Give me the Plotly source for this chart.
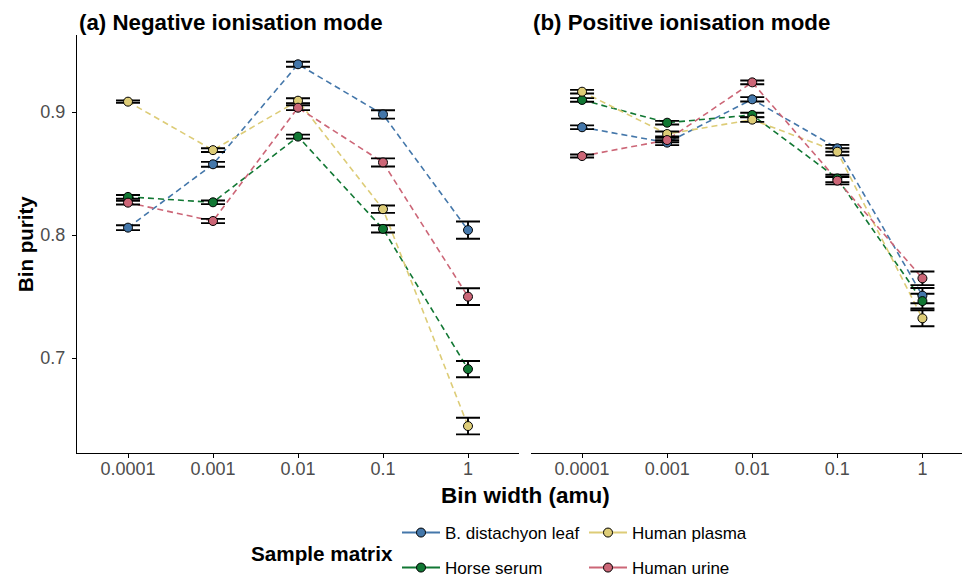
import plotly.graph_objects as go

# ---------------- data ----------------
bin_widths = ["0.0001", "0.001", "0.01", "0.1", "1"]
series_names = ["B. distachyon leaf", "Horse serum", "Human plasma", "Human urine"]
series_colors = ["#4477AA", "#117733", "#DDCC77", "#CC6677"]

# Negative ionisation mode: mean bin purity and error (half-width)
neg_bdist = [0.806, 0.8575, 0.9388, 0.898, 0.804]
neg_horse = [0.831, 0.8266, 0.880, 0.805, 0.691]
neg_plasma = [0.9084, 0.869, 0.9092, 0.821, 0.6447]
neg_urine = [0.8263, 0.8114, 0.9035, 0.859, 0.7499]
neg_bdist_err = [0.002, 0.002, 0.002, 0.0034, 0.007]
neg_horse_err = [0.0015, 0.0015, 0.0016, 0.003, 0.0066]
neg_plasma_err = [0.001, 0.0015, 0.002, 0.003, 0.0068]
neg_urine_err = [0.0015, 0.0017, 0.002, 0.0033, 0.0068]

# Positive ionisation mode
pos_bdist = [0.8876, 0.8751, 0.9103, 0.8705, 0.7507]
pos_horse = [0.9098, 0.8913, 0.8976, 0.846, 0.7463]
pos_plasma = [0.9165, 0.8821, 0.8938, 0.8677, 0.7323]
pos_urine = [0.8642, 0.8772, 0.9241, 0.8442, 0.7648]
pos_bdist_err = [0.0015, 0.002, 0.0018, 0.0028, 0.0062]
pos_horse_err = [0.0015, 0.0015, 0.0018, 0.003, 0.006]
pos_plasma_err = [0.0015, 0.002, 0.0018, 0.0028, 0.0065]
pos_urine_err = [0.0012, 0.0018, 0.0015, 0.003, 0.0055]

y_ticks = [0.7, 0.8, 0.9]
y_tick_labels = ["0.7", "0.8", "0.9"]

panel_titles = ["(a) Negative ionisation mode", "(b) Positive ionisation mode"]
x_title = "Bin width (amu)"
y_title = "Bin purity"
legend_title = "Sample matrix"

neg_vals = [neg_bdist, neg_horse, neg_plasma, neg_urine]
neg_errs = [neg_bdist_err, neg_horse_err, neg_plasma_err, neg_urine_err]
pos_vals = [pos_bdist, pos_horse, pos_plasma, pos_urine]
pos_errs = [pos_bdist_err, pos_horse_err, pos_plasma_err, pos_urine_err]

# ---------------- figure ----------------
W, H = 962, 578
FONT = "Liberation Sans, Arial, sans-serif"

fig = go.Figure()

panels = [("x", "y", neg_vals, neg_errs), ("x2", "y2", pos_vals, pos_errs)]

# lines layer
for xa, ya, vals, errs in panels:
    for name, col, v in zip(series_names, series_colors, vals):
        fig.add_trace(go.Scatter(x=bin_widths, y=v, xaxis=xa, yaxis=ya, mode="lines",
                                 line=dict(color=col, width=1.6, dash="6px,4px"),
                                 showlegend=False, hoverinfo="skip"))
# error bar layer
for xa, ya, vals, errs in panels:
    for name, col, v, e in zip(series_names, series_colors, vals, errs):
        fig.add_trace(go.Scatter(x=bin_widths, y=v, xaxis=xa, yaxis=ya, mode="markers",
                                 marker=dict(size=2, opacity=0),
                                 error_y=dict(type="data", array=e, visible=True,
                                              color="black", thickness=1.9, width=12),
                                 showlegend=False, hoverinfo="skip"))
# points layer
for xa, ya, vals, errs in panels:
    for name, col, v in zip(series_names, series_colors, vals):
        fig.add_trace(go.Scatter(x=bin_widths, y=v, xaxis=xa, yaxis=ya, mode="markers",
                                 marker=dict(size=9, color=col, line=dict(color="black", width=1)),
                                 showlegend=False, name=name))

# legend entries (solid key like ggplot)
legend_ids = ["legend", "legend2", "legend3", "legend4"]
for name, col, lid in zip(series_names, series_colors, legend_ids):
    fig.add_trace(go.Scatter(x=[None], y=[None], mode="lines+markers", name=name,
                             line=dict(color=col, width=2),
                             marker=dict(size=9, color=col, line=dict(color="black", width=1)),
                             showlegend=True, legend=lid))

def px_x(p):
    return p / W

def px_y(p):
    return 1 - p / H

y_range = [0.6228, 0.9626]
axis_common = dict(showline=True, linecolor="black", linewidth=1.3, ticks="outside",
                   ticklen=4, tickwidth=1.2, tickcolor="black", showgrid=False, zeroline=False,
                   automargin=False,
                   tickfont=dict(family=FONT, size=18, color="#4D4D4D"))

fig.update_layout(
    width=W, height=H,
    margin=dict(l=0, r=0, t=0, b=0, autoexpand=False),
    paper_bgcolor="white", plot_bgcolor="white",
    font=dict(family=FONT, color="black"),
    xaxis=dict(domain=[px_x(77), px_x(519)], type="category", range=[-0.6, 4.6],
               anchor="y", ticklabelstandoff=-5, **axis_common),
    xaxis2=dict(domain=[px_x(531), 1.0], type="category", range=[-0.6, 4.465],
                anchor="y2", ticklabelstandoff=-5, **axis_common),
    yaxis=dict(domain=[px_y(453), px_y(35)], range=y_range, anchor="x",
               tickvals=y_ticks, ticktext=y_tick_labels, ticklabelstandoff=3, **axis_common),
    yaxis2=dict(domain=[px_y(453), px_y(35)], range=y_range, anchor="x2",
                showline=False, showticklabels=False, ticks="", showgrid=False, zeroline=False),
)

leg_common = dict(orientation="v", xanchor="left", yanchor="middle", bgcolor="rgba(0,0,0,0)",
                  borderwidth=0, itemwidth=38,
                  font=dict(family=FONT, size=17, color="black"),
                  itemclick=False, itemdoubleclick=False)
leg_pos = [(397, 533), (397, 568), (584, 533), (584, 568)]
for lid, (lx, ly) in zip(legend_ids, leg_pos):
    fig.update_layout({lid: dict(x=px_x(lx), y=px_y(ly), **leg_common)})

annotations = [
    dict(text="<b>" + panel_titles[0] + "</b>", x=px_x(77), y=px_y(22), xanchor="left",
         yanchor="middle", size=22.3),
    dict(text="<b>" + panel_titles[1] + "</b>", x=px_x(531), y=px_y(22), xanchor="left",
         yanchor="middle", size=22.3),
    dict(text="<b>" + x_title + "</b>", x=px_x(525), y=px_y(495), xanchor="center",
         yanchor="middle", size=22.5),
    dict(text="<b>" + y_title + "</b>", x=px_x(25), y=px_y(244), xanchor="center",
         yanchor="middle", textangle=-90, size=20.5),
    dict(text="<b>" + legend_title + "</b>", x=px_x(249), y=px_y(553), xanchor="left",
         yanchor="middle", size=20.7),
]
for a in annotations:
    s = a.pop("size")
    a.update(xref="paper", yref="paper", showarrow=False,
             font=dict(family=FONT, size=s, color="black"))
fig.update_layout(annotations=annotations)

fig.write_html("out.html")
